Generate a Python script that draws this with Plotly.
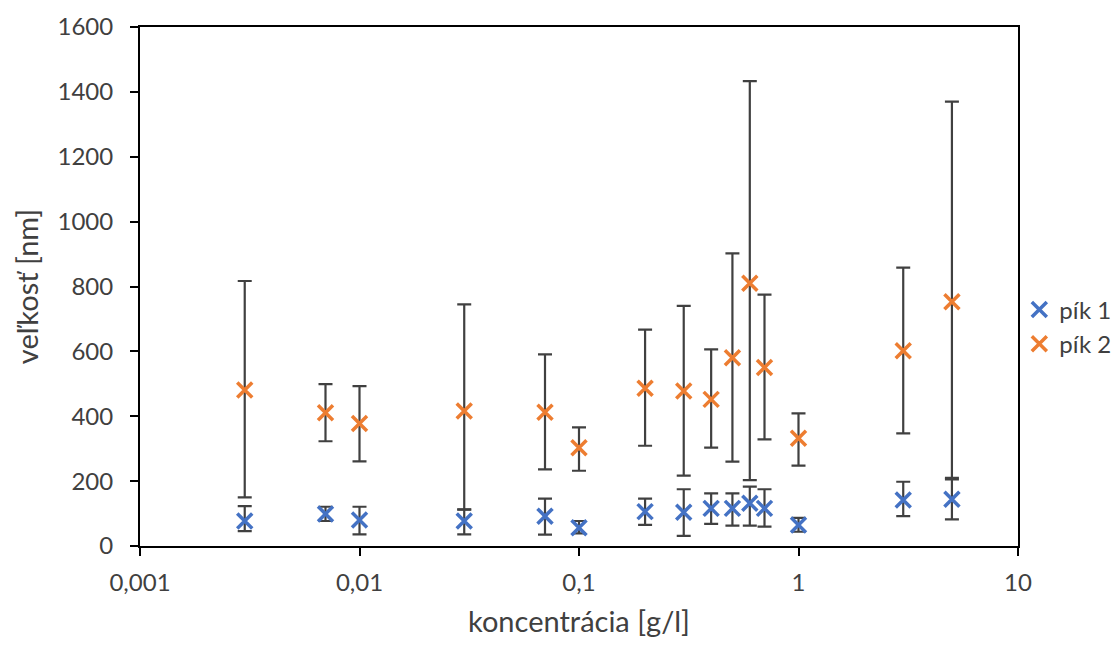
import plotly.graph_objects as go

conc = [0.003, 0.007, 0.01, 0.03, 0.07, 0.1, 0.2, 0.3, 0.4, 0.5, 0.6, 0.7, 1, 3, 5]
pik1 = [77, 99, 80, 77, 92, 56, 106, 104, 116, 116, 132, 116, 65, 142, 144]
pik1_hi = [123, 121, 121, 112, 146, 77, 146, 175, 162, 162, 183, 175, 87, 198, 205]
pik1_lo = [46, 77, 36, 36, 35, 39, 65, 31, 68, 63, 63, 60, 44, 92, 82]
pik2 = [481, 411, 378, 416, 412, 303, 486, 478, 452, 580, 810, 550, 332, 602, 753]
pik2_hi = [817, 499, 493, 745, 591, 366, 667, 740, 606, 902, 1433, 775, 409, 858, 1370]
pik2_lo = [150, 323, 261, 113, 236, 232, 309, 217, 303, 260, 203, 329, 248, 347, 210]

x_tickvals = [0.001, 0.01, 0.1, 1, 10]
x_ticktext = ["0,001", "0,01", "0,1", "1", "10"]
y_tickvals = [0, 200, 400, 600, 800, 1000, 1200, 1400, 1600]

FONT = "Lato"
TXT = "#404040"

fig = go.Figure()
for name, vals, hi, lo, col in [
    ("pík 1", pik1, pik1_hi, pik1_lo, "#4472C4"),
    ("pík 2", pik2, pik2_hi, pik2_lo, "#ED7D31"),
]:
    fig.add_trace(go.Scatter(
        x=conc, y=vals, mode="markers", name=name,
        marker=dict(symbol="x-thin", size=15, color=col,
                    line=dict(color=col, width=3.5)),
        error_y=dict(type="data", symmetric=False,
                     array=[h - v for h, v in zip(hi, vals)],
                     arrayminus=[v - l for v, l in zip(vals, lo)],
                     color="#404040", thickness=2.2, width=7),
    ))

fig.update_layout(
    width=1150, height=631,
    margin=dict(l=132, r=140, t=19, b=93),
    plot_bgcolor="white", paper_bgcolor="white",
    font=dict(family=FONT, size=24, color=TXT),
    showlegend=True,
    legend=dict(x=1.0015, y=0.422, xanchor="left", yanchor="middle",
                bgcolor="rgba(0,0,0,0)",
                font=dict(family=FONT, size=24, color=TXT),
                itemwidth=30),
)
fig.update_xaxes(
    type="log", range=[-3, 1], tickvals=x_tickvals, ticktext=x_ticktext,
    showgrid=False, zeroline=False, showline=True, linecolor="black",
    linewidth=2, mirror=True, ticks="outside", ticklen=8, tickwidth=2,
    tickcolor="black", automargin=False, ticklabelstandoff=6,
    title=dict(text="koncentrácia [g/l]", font=dict(family=FONT, size=29, color=TXT),
               standoff=17),
)
fig.update_yaxes(
    range=[0, 1600], tickvals=y_tickvals,
    showgrid=False, zeroline=False, showline=True, linecolor="black",
    linewidth=2, mirror=True, ticks="outside", ticklen=8, tickwidth=2,
    tickcolor="black", automargin=False, ticklabelstandoff=12,
    title=dict(text="veľkosť [nm]", font=dict(family=FONT, size=29, color=TXT),
               standoff=10),
)

fig.write_html("out.html")
